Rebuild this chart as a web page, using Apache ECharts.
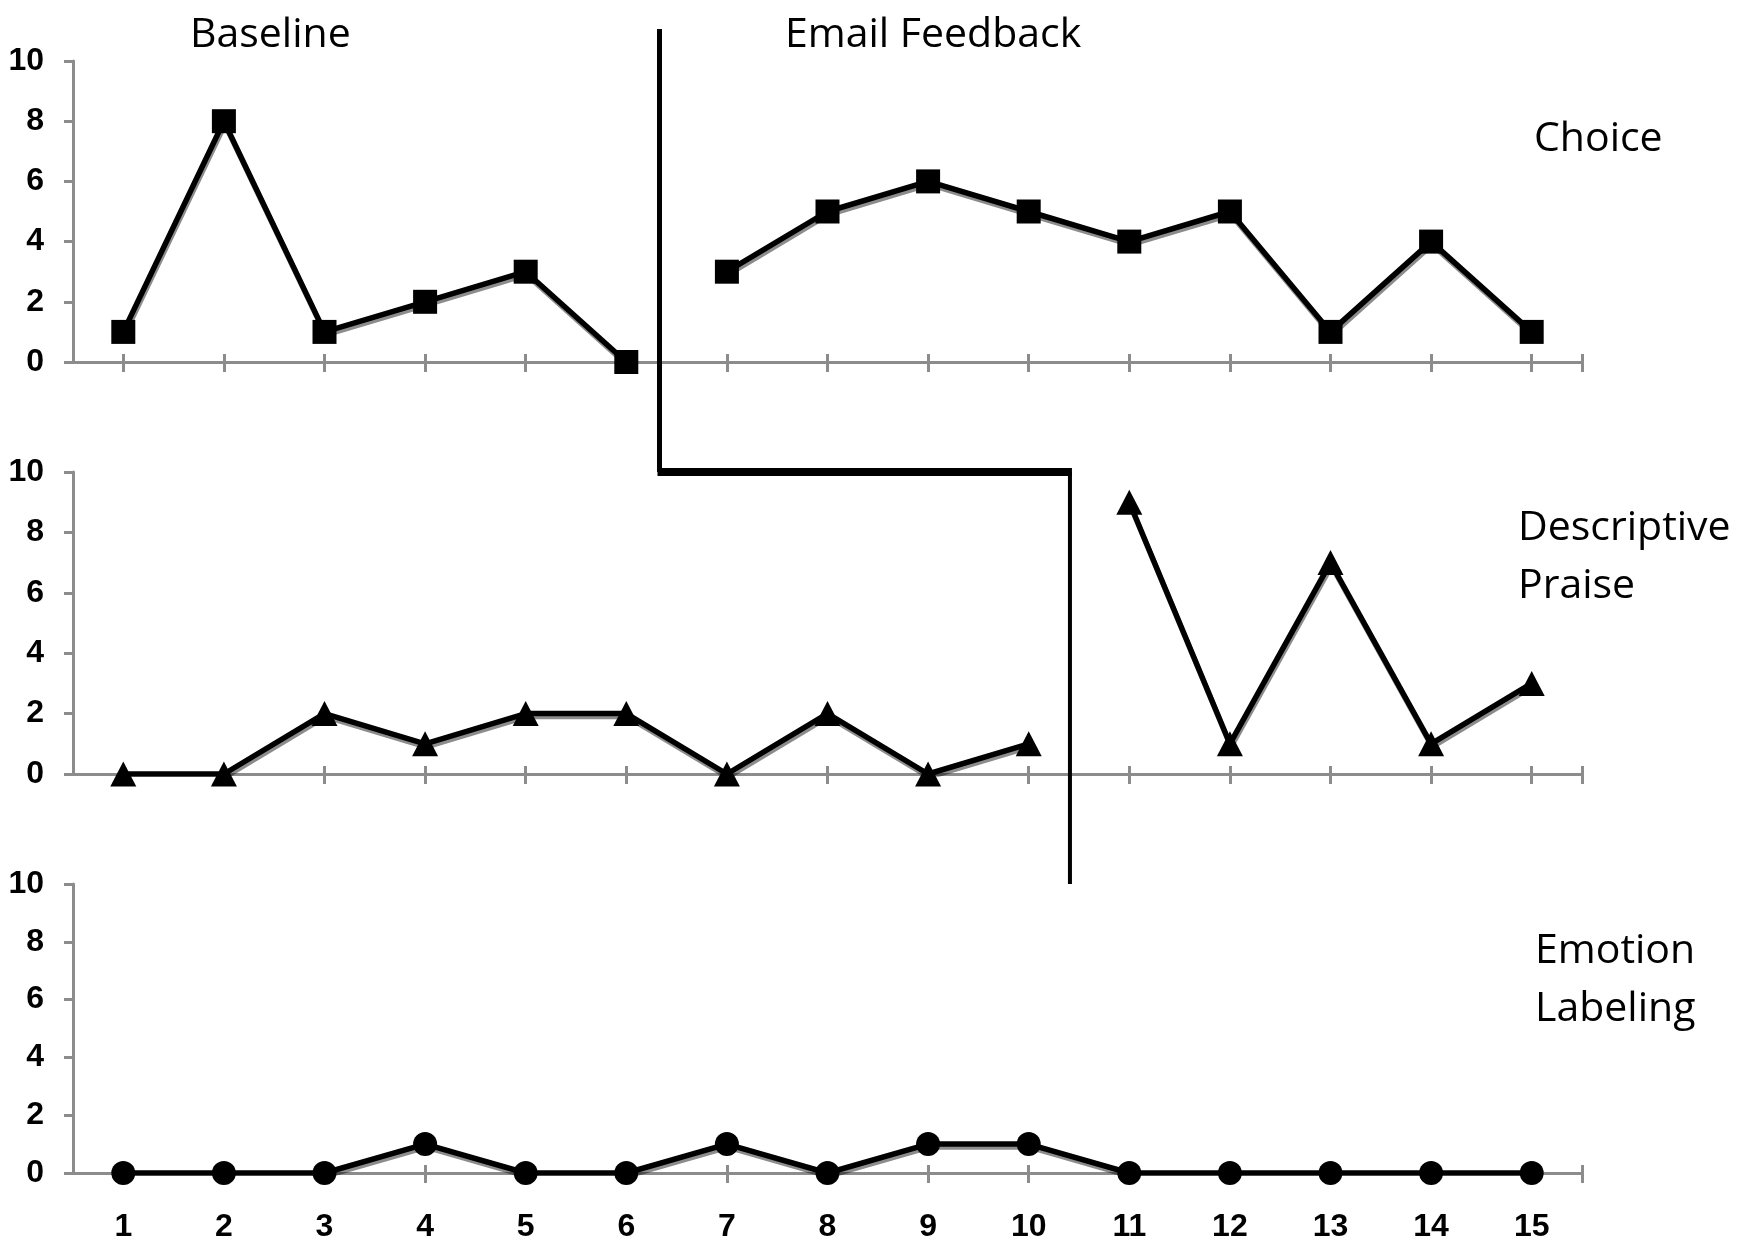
<!DOCTYPE html>
<html lang="en">
<head>
    <meta charset="UTF-8">
    <title>Choice / Descriptive Praise / Emotion Labeling</title>
    <script src="https://cdn.jsdelivr.net/npm/echarts@6/dist/echarts.min.js"></script>
    <style type="text/css">
        html, body{
            margin: 0;
            padding: 0;
            background: #fff;
        }
        #main{
            width: 1741px;
            height: 1240px;
        }
    </style>
</head>
<body>
    <div id="main"></div>
    <script>
        // sessions on the x axis
        var sessions = [1, 2, 3, 4, 5, 6, 7, 8, 9, 10, 11, 12, 13, 14, 15];
        var yTicks = [0, 2, 4, 6, 8, 10];
        // values
        var choice  = [1, 8, 1, 2, 3, 0, 3, 5, 6, 5, 4, 5, 1, 4, 1];
        var praise  = [0, 0, 2, 1, 2, 2, 0, 2, 0, 1, 9, 1, 7, 1, 3];
        var emotion = [0, 0, 0, 1, 0, 0, 1, 0, 1, 1, 0, 0, 0, 0, 0];
        // last baseline session for each behaviour
        var baselineEnd = [6, 10, 15];
        // where the phase change line is drawn (in session units)
        var phaseLineX = [6.33, 10.41];
        var phaseLineTop = 11.06;

        var panels = [
            {name: 'Choice', values: choice, symbol: 'rect', size: 24},
            {name: 'Descriptive Praise', values: praise, symbol: 'triangle', size: [26, 25]},
            {name: 'Emotion Labeling', values: emotion, symbol: 'circle', size: 24}
        ];

        var numFont = "'Liberation Sans', Arial, sans-serif";
        var textFont = "'Open Sans', 'Noto Sans', sans-serif";
        var gray = '#8c8c8c';

        var grids = [
            {left: 73, top: 61, width: 1509, height: 301, outerBoundsMode: 'none'},
            {left: 73, top: 472, width: 1509, height: 302, outerBoundsMode: 'none'},
            {left: 73, top: 884, width: 1509, height: 289, outerBoundsMode: 'none'}
        ];

        var xMin = sessions[0] - 0.5;
        var xMax = sessions[sessions.length - 1] + 0.5;
        var tickValues = sessions.concat([xMax]);

        var xAxes = [], yAxes = [], series = [];
        panels.forEach(function (p, i) {
            // main x axis (ticks pointing down)
            xAxes.push({
                type: 'value', gridIndex: i, min: xMin, max: xMax,
                splitLine: {show: false},
                axisLine: {show: true, onZero: false, lineStyle: {color: gray, width: 3}},
                axisTick: {show: true, length: 10, customValues: tickValues, lineStyle: {color: gray, width: 3}},
                axisLabel: {
                    show: i === 2, customValues: sessions, margin: 38,
                    fontFamily: numFont, fontWeight: 'bold', fontSize: 32, color: '#000'
                }
            });
            // second x axis only for the upward half of the ticks
            xAxes.push({
                type: 'value', gridIndex: i, min: xMin, max: xMax, position: 'bottom',
                splitLine: {show: false},
                axisLine: {show: false, onZero: false},
                axisTick: {show: true, inside: true, length: 8, customValues: tickValues, lineStyle: {color: gray, width: 3}},
                axisLabel: {show: false}
            });
            yAxes.push({
                type: 'value', gridIndex: i, min: yTicks[0], max: yTicks[yTicks.length - 1], interval: 2,
                splitLine: {show: false},
                axisLine: {show: true, lineStyle: {color: gray, width: 3}},
                axisTick: {show: true, length: 9, lineStyle: {color: gray, width: 3}},
                axisLabel: {margin: 29, fontFamily: numFont, fontWeight: 'bold', fontSize: 32, color: '#000'}
            });

            // split the data at the phase change so the line breaks there
            var phases = [[], []];
            sessions.forEach(function (s, k) {
                phases[s <= baselineEnd[i] ? 0 : 1].push([s, p.values[k]]);
            });
            phases.forEach(function (d) {
                if (!d.length) return;
                series.push({
                    name: p.name, type: 'line', xAxisIndex: i * 2, yAxisIndex: i,
                    data: d,
                    symbol: p.symbol, symbolSize: p.size, showSymbol: true,
                    itemStyle: {color: '#000'},
                    lineStyle: {
                        color: '#000', width: 5.5,
                        shadowColor: 'rgba(0,0,0,0.45)', shadowOffsetX: 1, shadowOffsetY: 3, shadowBlur: 0
                    },
                    emphasis: {disabled: true},
                    z: 3
                });
            });
        });

        var myChart = echarts.init(document.getElementById('main'));

        var titleStyle = {fontFamily: textFont, fontSize: 41, fill: '#000', verticalAlign: 'middle', lineHeight: 58};
        function label(text, x, y) {
            return {type: 'text', left: x, top: y, style: Object.assign({text: text}, titleStyle)};
        }

        myChart.setOption({
            animation: false,
            backgroundColor: '#fff',
            grid: grids,
            xAxis: xAxes,
            yAxis: yAxes,
            series: series
        });

        // phase change line, placed through the axes
        var p1 = myChart.convertToPixel({gridIndex: 0}, [phaseLineX[0], phaseLineTop]);
        var p2 = myChart.convertToPixel({gridIndex: 1}, [phaseLineX[0], yTicks[yTicks.length - 1]]);
        var p3 = myChart.convertToPixel({gridIndex: 1}, [phaseLineX[1], yTicks[yTicks.length - 1]]);
        var p4 = myChart.convertToPixel({gridIndex: 2}, [phaseLineX[1], yTicks[yTicks.length - 1]]);

        myChart.setOption({
            graphic: [
                {type: 'line', shape: {x1: p1[0], y1: p1[1], x2: p2[0], y2: p2[1]}, style: {stroke: '#000', lineWidth: 5}, z: 10},
                {type: 'line', shape: {x1: p2[0] - 2, y1: p2[1], x2: p3[0] + 2, y2: p3[1]}, style: {stroke: '#000', lineWidth: 8}, z: 10},
                {type: 'line', shape: {x1: p3[0], y1: p3[1], x2: p4[0], y2: p4[1]}, style: {stroke: '#000', lineWidth: 4}, z: 10},
                label('Baseline', 190, 6),
                label('Email Feedback', 785, 6),
                label('Choice', 1534, 110),
                label('Descriptive\nPraise', 1518, 499),
                label('Emotion\nLabeling', 1535, 922)
            ]
        });
    </script>
</body>
</html>
